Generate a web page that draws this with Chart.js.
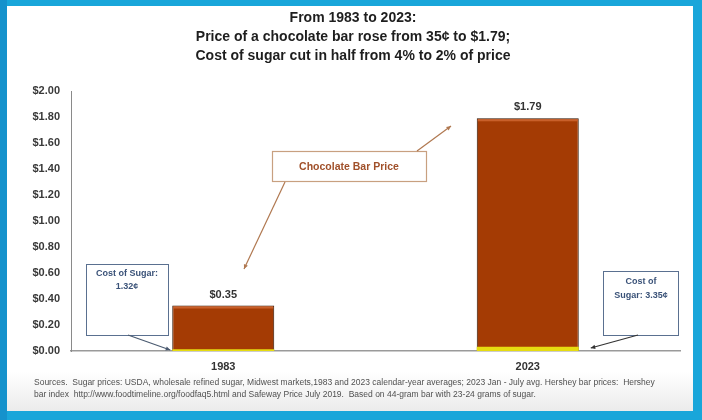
<!DOCTYPE html>
<html><head><meta charset="utf-8">
<script src="https://cdn.jsdelivr.net/npm/chart.js@4/dist/chart.umd.min.js"></script>
<style>
html,body{margin:0;padding:0;background:#19a6da;}
#wrap{position:absolute;left:0;top:0;width:702px;height:420px;}
</style></head>
<body><div id="wrap"><canvas id="c" width="702" height="420"></canvas></div>
<script>
const categories = ['1983', '2023'];
const chocolatePrice = [0.35, 1.79];
const sugarCost = [0.0132, 0.0335];
const yTicks = [0, 0.2, 0.4, 0.6, 0.8, 1.0, 1.2, 1.4, 1.6, 1.8, 2.0];
const valueLabels = ['$0.35', '$1.79'];
const titleLines = ['From 1983 to 2023:', 'Price of a chocolate bar rose from 35\u00a2 to $1.79;', 'Cost of sugar cut in half from 4% to 2% of price'];
const sugarNotes = [['Cost of Sugar:', '1.32\u00a2'], ['Cost of', 'Sugar: 3.35\u00a2']];
const priceNote = 'Chocolate Bar Price';
const sourceLines = [
 'Sources.  Sugar prices: USDA, wholesale refined sugar, Midwest markets,1983 and 2023 calendar-year averages; 2023 Jan - July avg. Hershey bar prices:  Hershey',
 'bar index  http://www.foodtimeline.org/foodfaq5.html and Safeway Price July 2019.  Based on 44-gram bar with 23-24 grams of sugar.'
];

const FONT = "'Liberation Sans', Arial, sans-serif";

function arrowLine(ctx, x1, y1, x2, y2, color, head) {
  ctx.save();
  ctx.strokeStyle = color; ctx.fillStyle = color; ctx.lineWidth = 1.2;
  ctx.beginPath(); ctx.moveTo(x1, y1); ctx.lineTo(x2, y2); ctx.stroke();
  const a = Math.atan2(y2 - y1, x2 - x1);
  ctx.beginPath();
  ctx.moveTo(x2, y2);
  ctx.lineTo(x2 - head * Math.cos(a - 0.45), y2 - head * Math.sin(a - 0.45));
  ctx.lineTo(x2 - head * Math.cos(a + 0.45), y2 - head * Math.sin(a + 0.45));
  ctx.closePath(); ctx.fill();
  ctx.restore();
}

const bgPlugin = {
  id: 'bg',
  beforeDraw(chart) {
    const ctx = chart.ctx;
    ctx.save();
    ctx.fillStyle = '#19a6da';
    ctx.fillRect(0, 0, 702, 420);
    ctx.fillStyle = '#1592cc';
    ctx.fillRect(0, 0, 7, 420);
    ctx.fillStyle = '#ffffff';
    ctx.fillRect(7, 6, 686, 405);
    const g = ctx.createLinearGradient(0, 372, 0, 411);
    g.addColorStop(0, '#ffffff');
    g.addColorStop(1, '#ebebeb');
    ctx.fillStyle = g;
    ctx.fillRect(7, 372, 686, 39);
    // title
    ctx.fillStyle = '#1e1e1e';
    ctx.textAlign = 'center'; ctx.textBaseline = 'middle';
    ctx.font = 'bold 14px ' + FONT;
    titleLines.forEach((t, i) => ctx.fillText(t, 353, 18 + i * 19));
    // sources
    ctx.fillStyle = '#505050';
    ctx.textAlign = 'left';
    ctx.font = '8.5px ' + FONT;
    sourceLines.forEach((t, i) => ctx.fillText(t, 34, 383 + i * 12));
    ctx.restore();
  },
  afterDatasetsDraw(chart) {
    // lighter highlight strip at top of chocolate bars
    const ctx = chart.ctx;
    const meta = chart.getDatasetMeta(1);
    ctx.save();
    ctx.fillStyle = '#c9602a';
    meta.data.forEach(bar => {
      ctx.fillRect(bar.x - bar.width / 2 + 1, bar.y + 1, bar.width - 2, 2);
    });
    ctx.restore();
  }
};

const notesPlugin = {
  id: 'notes',
  afterDatasetsDraw(chart) {
    const ctx = chart.ctx;
    const meta = chart.getDatasetMeta(1);
    const y = chart.scales.y;
    ctx.save();
    ctx.fillStyle = '#333333';
    ctx.font = 'bold 11px ' + FONT;
    ctx.textAlign = 'center'; ctx.textBaseline = 'middle';
    meta.data.forEach((bar, i) => {
      ctx.fillText(valueLabels[i], bar.x, y.getPixelForValue(chocolatePrice[i]) - 11);
    });
    const b0 = meta.data[0], b1 = meta.data[1];
    const base = y.getPixelForValue(0);
    ctx.strokeStyle = '#5a7090'; ctx.lineWidth = 1;
    ctx.strokeRect(86.5, 264.5, 82, 71);
    ctx.strokeRect(603.5, 271.5, 75, 64);
    ctx.fillStyle = '#3a5278';
    ctx.font = 'bold 9px ' + FONT;
    ctx.fillText(sugarNotes[0][0], 127, 274);
    ctx.fillText(sugarNotes[0][1], 127, 287);
    ctx.fillText(sugarNotes[1][0], 641, 282);
    ctx.fillText(sugarNotes[1][1], 641, 296);
    arrowLine(ctx, 128, 335, b0.x - b0.width / 2 - 2, base - 1, '#4a5a70', 5);
    arrowLine(ctx, 638, 335, b1.x + b1.width / 2 + 12, base - 3, '#333', 5);
    ctx.strokeStyle = '#c8a080'; ctx.lineWidth = 1.2;
    ctx.strokeRect(272.5, 151.5, 154, 30);
    ctx.fillStyle = '#a0502a';
    ctx.font = 'bold 10.5px ' + FONT;
    ctx.fillText(priceNote, 349, 167);
    arrowLine(ctx, 285, 182, 244, 269, '#b07850', 5);
    arrowLine(ctx, 417, 151, 451, 126, '#b07850', 5);
    ctx.restore();
  }
};

new Chart(document.getElementById('c'), {
  type: 'bar',
  data: {
    labels: categories,
    datasets: [
      { label: 'Sugar', data: sugarCost, backgroundColor: '#e6dc10', borderWidth: 0, order: 0, grouped: false },
      { label: 'Chocolate Bar Price', data: chocolatePrice, backgroundColor: '#a43b04', borderColor: '#2e1200', borderWidth: 1, order: 1, grouped: false }
    ]
  },
  options: {
    responsive: false,
    animation: false,
    devicePixelRatio: 1,
    layout: { padding: { left: 0, top: 91, right: 22, bottom: 0 } },
    plugins: { legend: { display: false }, tooltip: { enabled: false }, title: { display: false } },
    datasets: { bar: { barPercentage: 0.335, categoryPercentage: 1 } },
    scales: {
      x: {
        grid: { display: false, drawTicks: false },
        border: { display: true, color: '#9a9a9a', width: 1.5 },
        ticks: { color: '#333', font: { family: FONT, size: 11, weight: 'bold' }, padding: 9 },
        afterFit(s) { s.height = 69; }
      },
      y: {
        min: 0, max: 2,
        afterBuildTicks(s) { s.ticks = yTicks.map(v => ({ value: v })); },
        grid: { display: false, drawTicks: false },
        border: { display: true, color: '#8a8a8a', width: 1 },
        ticks: { color: '#3a3a3a', font: { family: FONT, size: 11, weight: 'bold' }, padding: 11,
                 callback: v => '$' + Number(v).toFixed(2) },
        afterFit(s) { s.width = 71; }
      }
    }
  },
  plugins: [bgPlugin, notesPlugin]
});
</script></body></html>
